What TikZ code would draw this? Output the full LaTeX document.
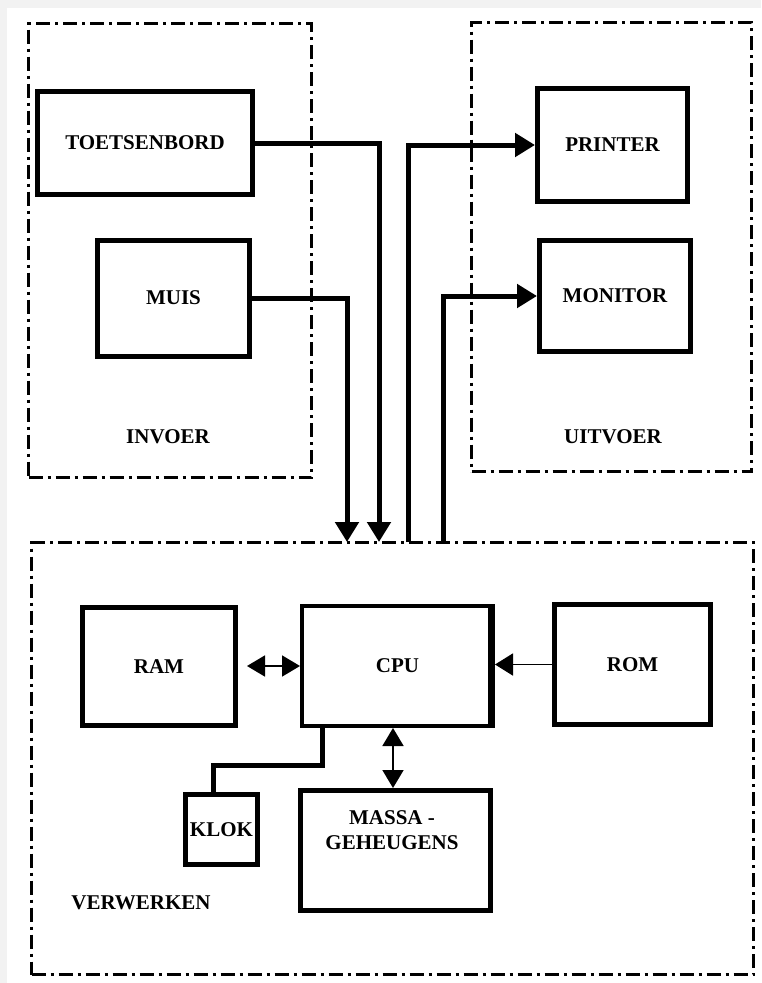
\documentclass[tikz,border=0pt]{standalone}
\usepackage{fontspec}
\setmainfont{Liberation Serif}
\usetikzlibrary{arrows.meta,calc}
\newcommand{\lblfont}{\fontsize{21}{25}\selectfont\bfseries}
\begin{document}
\begin{tikzpicture}[x=1pt,y=-1pt,
  box/.style={draw, line width=5pt, inner sep=0pt, font=\lblfont},
  grp/.style={draw, line width=3pt, dash pattern=on 14pt off 5pt on 3pt off 5pt, inner sep=0pt},
  lbl/.style={font=\lblfont, inner sep=0pt},
  conn/.style={line width=5pt},
  bigarrow/.style={conn, -{Triangle[length=20pt,width=23pt]}},
  thinboth/.style={line width=1.8pt, {Triangle[length=18pt,width=21pt]}-{Triangle[length=18pt,width=21pt]}},
  thinarrow/.style={line width=1.8pt, -{Triangle[length=18pt,width=22pt]}},
]
\useasboundingbox (0,0) rectangle (761,983);
\fill[gray!10] (0,0) rectangle (761,983);
\fill[white] (7,8) rectangle (761,983);

% group boxes
\node[grp, minimum width=283, minimum height=454] (invoer) at (170,250.5) {};
\node[grp, minimum width=280, minimum height=449] (uitvoer) at (611.5,247) {};
\node[grp, minimum width=722, minimum height=432] (verw) at (392.5,758.5) {};

\node[lbl] (invoerlbl) at (168,437) {INVOER};
\node[lbl] (uitvoerlbl) at (613,437) {UITVOER};
\node[lbl] (verwlbl) at (141,903) {VERWERKEN};

% boxes
\node[box, minimum width=215, minimum height=103] (toets) at (145,143) {TOETSENBORD};
\node[box, minimum width=152, minimum height=116] (muis) at (173.5,298) {MUIS};
\node[box, minimum width=150, minimum height=113] (printer) at (612.5,145) {PRINTER};
\node[box, minimum width=151, minimum height=111] (monitor) at (615,296) {MONITOR};
\node[box, minimum width=153, minimum height=118] (ram) at (159,666.5) {RAM};
\node[box, line width=4pt, minimum width=191, minimum height=120] (cpu) at (397.5,666) {CPU};
\fill ([xshift=-7pt]cpu.north east) rectangle (cpu.south east);
\node[box, minimum width=156, minimum height=120] (rom) at (632.5,664.5) {ROM};
\node[box, minimum width=72, minimum height=70] (klok) at (221.5,829.5) {KLOK};
\node[box, minimum width=190, minimum height=120] (massa) at (395.5,850.5) {};
\node[lbl, align=center] (massatxt) at (392,830) {MASSA -\\GEHEUGENS};

% connection points on the VERWERKEN border
\coordinate (muisin) at (347,542);
\coordinate (toetsin) at (379,542);
\coordinate (printout) at (408,542);
\coordinate (monout) at (443,542);
\coordinate (klokbend) at (322,765);

% connectors
\draw[bigarrow] (toets.east) -| (toetsin);
\draw[bigarrow] (muis.east) -| (muisin);
\draw[bigarrow] (printout) |- (printer.west);
\draw[bigarrow] (monout) |- (monitor.west);

\draw[thinboth] ([xshift=9pt]ram.east |- cpu.west) -- (cpu.west);
\draw[thinarrow] (rom.west) -- (rom.west -| cpu.east);
\draw[thinboth] ([xshift=-4.5pt]cpu.south) -- ([xshift=-4.5pt]cpu.south |- massa.north);
\draw[conn] (cpu.south -| klokbend) -- (klokbend) -| ([xshift=-8pt]klok.north);
\end{tikzpicture}
\end{document}
